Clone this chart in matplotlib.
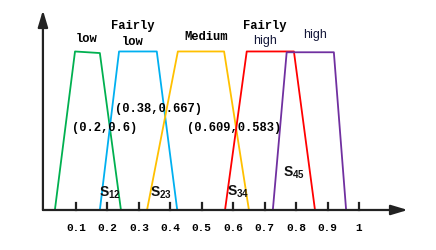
import matplotlib
matplotlib.use("Agg")
import matplotlib.pyplot as plt

# membership functions: trapezoid corner x values and plateau heights
names = ["low", "Fairly low", "Medium", "Fairly high", "high"]
colors = ["#00B050", "#00B0F0", "#FFC000", "#FF0000", "#7030A0"]
x_low = [0.033, 0.097, 0.176, 0.243]
x_flow = [0.176, 0.237, 0.357, 0.422]
x_med = [0.326, 0.424, 0.571, 0.650]
x_fhigh = [0.574, 0.643, 0.793, 0.860]
x_high = [0.726, 0.770, 0.920, 0.959]
y_low = [0, 1.0, 0.99, 0]
y_trap = [0, 1.0, 1.0, 0]
y_high = [0, 0.995, 0.995, 0]

ticks = [0.1, 0.2, 0.3, 0.4, 0.5, 0.6, 0.7, 0.8, 0.9, 1]
tick_labels = ["0.1", "0.2", "0.3", "0.4", "0.5", "0.6", "0.7", "0.8", "0.9", "1"]

points = ["(0.2,0.6)", "(0.38,0.667)", "(0.609,0.583)"]
areas = ["12", "23", "34", "45"]

plt.rcParams["mathtext.fontset"] = "custom"
plt.rcParams["mathtext.rm"] = "Liberation Sans:bold"

fig = plt.figure(figsize=(4.36, 2.51), dpi=100)
ax = fig.add_axes([0, 0, 1, 1])
ax.set_xlim(-0.1415, 1.2448)
ax.set_ylim(-0.2524, 1.331)
ax.axis("off")

series = [(x_low, y_low), (x_flow, y_trap), (x_med, y_trap),
          (x_fhigh, y_trap), (x_high, y_high)]
for (xs, ys), c in zip(series, colors):
    ax.plot(xs, ys, color=c, lw=1.3, solid_joinstyle="round")

# axes with arrows
axc = "#222222"
ax.annotate("", xy=(1.155, 0), xytext=(-0.005, 0),
            arrowprops=dict(arrowstyle="-|>,head_length=1.0,head_width=0.3",
                            color=axc, lw=1.6, shrinkA=0, shrinkB=0))
ax.annotate("", xy=(-0.005, 1.26), xytext=(-0.005, 0),
            arrowprops=dict(arrowstyle="-|>,head_length=1.0,head_width=0.3",
                            color=axc, lw=1.6, shrinkA=0, shrinkB=0))
for t, lab in zip(ticks, tick_labels):
    ax.plot([t, t], [0, 0.045], color=axc, lw=1.6)
    ax.text(t, -0.107, lab, ha="center", va="center", fontsize=8,
            family="Liberation Mono", weight="bold")

mono = dict(family="Liberation Mono", weight="bold", fontsize=8.7,
            ha="center", va="center")
ax.text(0.135, 1.085, "low", **mono)
ax.text(0.28, 1.17, "Fairly", **mono)
ax.text(0.28, 1.065, "low", **mono)
ax.text(0.515, 1.10, "Medium", **mono)
ax.text(0.7, 1.17, "Fairly", **mono)
ax.text(0.7, 1.07, "high", family="Liberation Sans", fontsize=9,
        ha="center", va="center", color="#15183a")
ax.text(0.86, 1.11, "high", family="Liberation Sans", fontsize=9,
        ha="center", va="center", color="#15183a")

ax.text(0.192, 0.525, points[0], **mono)
ax.text(0.362, 0.645, points[1], **mono)
ax.text(0.603, 0.525, points[2], **mono)

s_pos = [(0.208, 0.115), (0.369, 0.115), (0.614, 0.12), (0.792, 0.24)]
for (sx, sy), a in zip(s_pos, areas):
    ax.text(sx, sy, "S$_{\\mathrm{" + a + "}}$", family="Liberation Sans",
            weight="bold", fontsize=10, ha="center", va="center",
            color="#111111")

fig.savefig("out.png", dpi=100)
